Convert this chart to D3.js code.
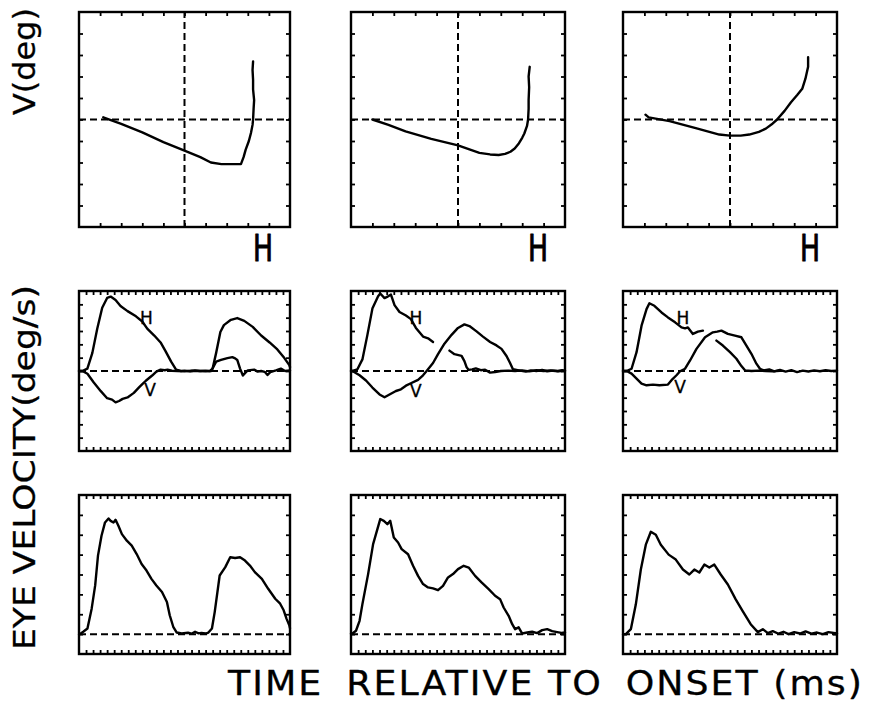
<!DOCTYPE html>
<html>
<head>
<meta charset="utf-8">
<script src="https://cdn.jsdelivr.net/npm/d3@7"></script>
<style>
  body { margin: 0; background: #fff; }
  svg { display: block; }
</style>
</head>
<body>
<svg id="fig" width="874" height="703"></svg>
<script>
// ---- Eye position trajectories, [H deg, V deg] ----
const trajectory1 = [[-7.7,0.2],[-6,-0.4],[-4,-1.2],[-2,-2.1],[0,-2.9],[1.5,-3.5],[2.5,-4.0],[3.5,-4.15],[4.5,-4.15],[5.35,-4.15],[5.6,-3.5],[5.8,-2.8],[6.1,-2.0],[6.3,-1.25],[6.45,-0.5],[6.5,0],[6.55,1.0],[6.6,1.8],[6.5,2.8],[6.5,3.7],[6.45,4.6],[6.5,5.4]];
const trajectory2 = [[-8.0,0],[-6.5,-0.5],[-4.9,-1.1],[-2.5,-1.8],[0,-2.4],[2.0,-3.1],[3.0,-3.25],[3.8,-3.3],[4.4,-3.2],[4.9,-3.0],[5.3,-2.7],[5.7,-2.2],[6.0,-1.7],[6.2,-1.3],[6.45,-0.6],[6.55,0],[6.6,1.0],[6.6,1.8],[6.65,3.0],[6.6,4.0],[6.7,4.9]];
const trajectory3 = [[-7.9,0.45],[-7.6,0.2],[-5.65,-0.15],[-3.2,-0.8],[-1.0,-1.4],[0,-1.5],[1.0,-1.5],[1.8,-1.4],[2.7,-1.15],[3.35,-0.85],[3.9,-0.45],[4.4,0],[5.1,0.8],[5.7,1.6],[6.3,2.3],[6.75,2.85],[7.05,3.8],[7.3,4.9],[7.3,5.8]];

// ---- Component velocities, [time ms, deg/s]; null marks a gap in the record ----
const velH1 = [[0,0],[4.7,0],[11.9,18],[19,136],[26,318],[33,475],[40,548],[45,558],[52,532],[59,488],[69,449],[81,410],[90,371],[97,318],[107,266],[116,214],[123,149],[131,70],[138,10],[145,0],[150,3],[158,-2],[165,4],[172,0],[180,3],[186,0],[190,18],[195,136],[201,292],[206,344],[216,384],[225,397],[235,376],[247,331],[259,266],[271,214],[282,162],[292,97],[299,44],[300,30]];
const velV1 = [[0,0],[4.7,0],[12,-21],[21,-86],[31,-151],[40,-204],[47,-215],[52,-235],[57,-225],[62,-209],[69,-198],[78,-164],[85,-125],[90,-99],[95,-73],[104,-34],[110,-5],[116,10],[122,6],[126,10],[132,2],[140,0],[150,-3],[160,2],[170,0],[180,-2],[188,0],[195,70],[202,83],[211,97],[218,104],[222,95],[225,83],[229,18],[233,-34],[237,-10],[240,5],[249,10],[254,-5],[259,0],[264,-6],[268,-30],[272,-8],[280,5],[287,18],[293,0],[300,5]];
const velH2 = [[0,0],[2,0],[9,13],[16,87],[23,271],[30,468],[38,560],[41,581],[47,547],[52,560],[56,573],[61,494],[68,442],[77,416],[84,389],[91,323],[101,258],[108,245],[115,218],null,[138,153],[145,126],[155,113],[159,74],[162,29],[165,8],[170,12],[175,20],[182,6],[188,10],[195,-12],[202,-8],[210,0],[220,3],[230,0],[240,5],[250,-3],[260,6],[270,0],[280,4],[290,-2],[300,2]];
const velV2 = [[0,0],[2,0],[12,-32],[21,-71],[30,-124],[40,-176],[47,-197],[54,-176],[63,-150],[70,-137],[77,-110],[84,-92],[94,-66],[101,-32],[106,0],[115,60],[122,126],[131,205],[141,271],[150,323],[159,350],[166,337],[176,297],[185,258],[195,218],[204,192],[211,166],[218,113],[223,60],[227,13],[237,3],[245,-5],[252,5],[260,0],[268,8],[275,-2],[283,3],[290,0],[296,6],[300,0]];
const velH3 = [[0,0],[5,0],[12,17],[19,141],[26,340],[33,464],[37,508],[44,489],[54,439],[63,402],[73,365],[82,327],[87,320],[91,327],[98,278],[105,295],[112,303],null,[131,228],[140,191],[150,141],[159,92],[166,37],[171,5],[180,0],[190,3],[200,0],[210,-3],[220,2]];
const velV3 = [[0,0],[5,0],[12,-20],[19,-57],[26,-94],[33,-107],[42,-102],[51,-107],[63,-102],[68,-69],[75,-32],[80,-2],[87,17],[94,79],[103,166],[115,253],[126,290],[132,295],[138,303],[147,278],[157,265],[166,253],[173,191],[180,129],[187,55],[192,17],[197,5],[205,12],[212,-3],[220,8],[228,-5],[236,6],[244,-8],[252,3],[260,-4],[268,5],[276,-2],[284,6],[292,0],[300,3]];

// ---- Vector (total) eye speed, [time ms, deg/s] ----
const speed1 = [[0,0],[1,0],[6,12],[12,28],[18,128],[23,245],[27,395],[32,495],[37,562],[42,582],[45,570],[49,562],[52,575],[56,545],[61,503],[68,470],[75,445],[82,403],[89,353],[96,320],[103,278],[110,245],[118,212],[125,162],[129,95],[134,37],[139,8],[146,3],[155,7],[160,2],[165,12],[170,4],[174,6],[180,3],[184,8],[189,28],[193,112],[200,295],[208,337],[215,387],[222,383],[229,387],[236,370],[243,345],[250,312],[260,278],[269,228],[279,178],[286,153],[291,120],[295,78],[299,45],[300,30]];
const speed2 = [[0,2],[2,3],[7,17],[12,67],[16,151],[24,302],[31,453],[35,503],[41,579],[46,570],[51,553],[55,570],[60,486],[66,461],[71,428],[80,402],[87,344],[94,293],[101,252],[108,235],[115,230],[122,221],[129,243],[136,285],[143,302],[150,327],[158,344],[165,335],[174,293],[183,260],[193,226],[202,193],[209,176],[214,134],[221,92],[226,50],[230,25],[235,34],[240,3],[247,8],[254,12],[261,5],[268,20],[275,25],[282,15],[289,10],[295,6],[300,8]];
const speed3 = [[0,0],[4,0],[11,25],[18,150],[25,325],[32,450],[39,515],[46,500],[53,450],[64,400],[74,375],[84,325],[93,300],[100,325],[107,310],[114,350],[121,335],[128,350],[137,300],[147,250],[158,175],[168,115],[179,50],[189,10],[196,25],[203,5],[210,15],[218,2],[225,12],[232,0],[240,10],[248,3],[256,14],[264,2],[272,8],[280,0],[288,10],[300,3]];

// ---- Trace labels inside velocity panels, [time, deg/s] of text centre ----
const labelH = [[96,400],[91,395],[84,400]];
const labelV = [[101,-145],[91,-150],[80,-120]];

// ---- Axis titles (thin space widens the word gaps slightly) ----
const titleTime = 'TIME\u2009 RELATIVE TO\u2009 ONSET (ms)';
const titlePos = 'V(deg)';
const titleVel = 'EYE VELOCITY(deg/s)';

// ---- Axis ranges and tick values ----
const posDomain = [-10, 10];
const posTicks = [-8,-6,-4,-2,0,2,4,6,8];
const timeDomain = [0, 300];
const timeTicks = d3.range(10, 300, 10);
const velDomain = [-600, 600];
const velTicks = [-500,-400,-300,-200,-100,0,100,200,300,400,500];
const speedDomain = [-100, 700];
const speedTicks = [0,100,200,300,400,500,600];

// ---- Layout ----
const columns = [[79, 290], [351, 565], [623, 837]];
const rowPos = [12, 227];
const rowVel = [291, 451];
const rowSpeed = [495, 654];
const FONT = "'DejaVu Sans', 'Liberation Sans', sans-serif";
const INK = '#000';

const svg = d3.select('#fig');

function framedPanel(xr, yr, xDom, yDom, xTicks, yTicks) {
  const x = d3.scaleLinear().domain(xDom).range(xr);
  const y = d3.scaleLinear().domain(yDom).range([yr[1], yr[0]]);
  const g = svg.append('g');
  const tick = 4;
  const axes = [
    [d3.axisTop(x).tickValues(xTicks), `translate(0,${yr[0]})`],
    [d3.axisBottom(x).tickValues(xTicks), `translate(0,${yr[1]})`],
    [d3.axisLeft(y).tickValues(yTicks), `translate(${xr[0]},0)`],
    [d3.axisRight(y).tickValues(yTicks), `translate(${xr[1]},0)`]
  ];
  axes.forEach(([ax, tr]) => {
    const a = g.append('g').attr('transform', tr)
      .call(ax.tickSize(-tick).tickSizeOuter(0).tickFormat(''));
    a.select('.domain').remove();
    a.selectAll('line').attr('stroke', INK).attr('stroke-width', 1.8);
  });
  g.append('rect')
    .attr('x', xr[0]).attr('y', yr[0])
    .attr('width', xr[1] - xr[0]).attr('height', yr[1] - yr[0])
    .attr('fill', 'none').attr('stroke', INK).attr('stroke-width', 2.4);
  return { g, x, y };
}

function dashedH(p, v) {
  p.g.append('line')
    .attr('x1', p.x.range()[0]).attr('x2', p.x.range()[1])
    .attr('y1', p.y(v)).attr('y2', p.y(v))
    .attr('stroke', INK).attr('stroke-width', 2).attr('stroke-dasharray', '7,4');
}
function dashedV(p, v) {
  p.g.append('line')
    .attr('y1', p.y.range()[0]).attr('y2', p.y.range()[1])
    .attr('x1', p.x(v)).attr('x2', p.x(v))
    .attr('stroke', INK).attr('stroke-width', 2).attr('stroke-dasharray', '7,4');
}
function trace(p, data) {
  const line = d3.line()
    .defined(d => d !== null)
    .x(d => p.x(d[0])).y(d => p.y(d[1]));
  p.g.append('path').datum(data)
    .attr('d', line)
    .attr('fill', 'none').attr('stroke', INK)
    .attr('stroke-width', 2.4).attr('stroke-linejoin', 'round').attr('stroke-linecap', 'round');
}
// Plotter-style lettering: regular glyphs with a thin outline for weight
function inked(sel, w) {
  return sel.attr('font-family', FONT).attr('fill', INK)
    .attr('stroke', INK).attr('stroke-width', w).attr('stroke-linejoin', 'round');
}

const trajectories = [trajectory1, trajectory2, trajectory3];
const velH = [velH1, velH2, velH3];
const velV = [velV1, velV2, velV3];
const speeds = [speed1, speed2, speed3];

columns.forEach((xr, i) => {
  // Row 1: vertical vs horizontal eye position
  const pp = framedPanel(xr, rowPos, posDomain, posDomain, posTicks, posTicks);
  dashedH(pp, 0);
  dashedV(pp, 0);
  trace(pp, trajectories[i]);
  inked(svg.append('text'), 1.0)
    .attr('x', xr[1] - 37).attr('y', 261)
    .attr('textLength', 20).attr('lengthAdjust', 'spacingAndGlyphs')
    .attr('font-size', 37)
    .text('H');

  // Row 2: horizontal and vertical velocity components
  const pv = framedPanel(xr, rowVel, timeDomain, velDomain, timeTicks, velTicks);
  dashedH(pv, 0);
  trace(pv, velH[i]);
  trace(pv, velV[i]);
  inked(pv.g.append('text'), 0.35)
    .attr('x', pv.x(labelH[i][0])).attr('y', pv.y(labelH[i][1]))
    .attr('text-anchor', 'middle').attr('dominant-baseline', 'central')
    .attr('font-size', 17).text('H');
  inked(pv.g.append('text'), 0.35)
    .attr('x', pv.x(labelV[i][0])).attr('y', pv.y(labelV[i][1]))
    .attr('text-anchor', 'middle').attr('dominant-baseline', 'central')
    .attr('font-size', 17).text('V');

  // Row 3: vector eye speed
  const ps = framedPanel(xr, rowSpeed, timeDomain, speedDomain, timeTicks, speedTicks);
  dashedH(ps, 0);
  trace(ps, speeds[i]);
});

// Axis titles
inked(svg.append('text'), 0.3)
  .attr('transform', 'translate(35,115) rotate(-90)')
  .attr('textLength', 107).attr('lengthAdjust', 'spacingAndGlyphs')
  .attr('font-size', 31)
  .text(titlePos);
inked(svg.append('text'), 0.3)
  .attr('transform', 'translate(35,650) rotate(-90)')
  .attr('textLength', 365).attr('lengthAdjust', 'spacingAndGlyphs')
  .attr('font-size', 31)
  .text(titleVel);
// Time title: glyphs slightly widened, then letter-spaced to the full width
const widen = 1.1;
inked(svg.append('g').attr('transform', `translate(228,695) scale(${widen},1)`)
  .append('text'), 0.3)
  .attr('x', 0).attr('y', 0)
  .style('white-space', 'pre')
  .attr('textLength', 634 / widen).attr('lengthAdjust', 'spacing')
  .attr('font-size', 33)
  .text(titleTime);
</script>
</body>
</html>
